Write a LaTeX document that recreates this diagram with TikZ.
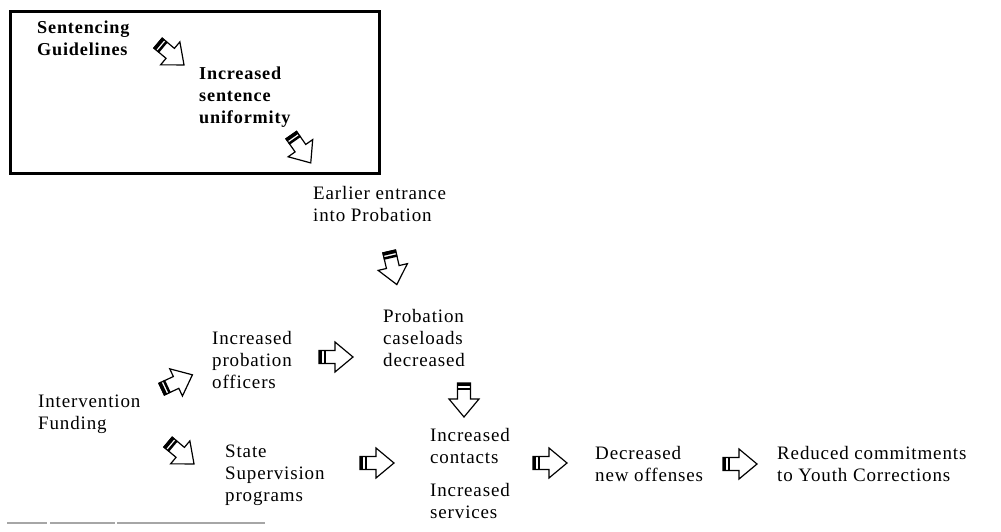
\documentclass[tikz,border=0pt]{standalone}
\usepackage{fontspec}
\setmainfont[LetterSpace=4.5]{Liberation Serif}
\begin{document}
\begin{tikzpicture}[x=1pt,y=-1pt,
  lbl/.style={anchor=north west,inner sep=0pt,align=left,font=\fontsize{19}{22}\selectfont},
  blbl/.style={lbl,font=\fontsize{18.2}{22}\selectfont\bfseries},
  sarrow/.pic={
    \draw[line width=1.2pt,line join=miter,fill=white]
      (-17,-6.5) -- (-1,-6.5) -- (-1,-15) -- (17,0) -- (-1,15) -- (-1,6.5) -- (-17,6.5) -- cycle;
    \fill (-17.5,-7) rectangle (-14,7);
    \fill (-12.5,-7) rectangle (-10,7);
  }]
\useasboundingbox (0,0) rectangle (1001,532);
% frame
\draw[line width=2.4pt] (10.5,11.5) rectangle (379.5,173.5);
% texts
\node[blbl] (sg)  at (37,21)  {Sentencing\\Guidelines};
\node[blbl] (isu) at (199,67) {Increased\\sentence\\uniformity};
\node[lbl]  (eep) at (313,186) {Earlier entrance\\into Probation};
\node[lbl]  (pcd) at (383,309) {Probation\\caseloads\\decreased};
\node[lbl]  (ipo) at (212,331) {Increased\\probation\\officers};
\node[lbl]  (ifd) at (38,395)  {Intervention\\Funding};
\node[lbl]  (ssp) at (225,445) {State\\Supervision\\programs};
\node[lbl]  (ic)  at (430,428) {Increased\\contacts};
\node[lbl]  (is)  at (430,483) {Increased\\services};
\node[lbl]  (dno) at (595,446) {Decreased\\new offenses};
\node[lbl]  (rc)  at (777,446) {Reduced commitments\\to Youth Corrections};
% block arrows
\coordinate (a1) at (171,54);
\coordinate (a2) at (301,149);
\coordinate (a3) at (393,268);
\coordinate (a4) at (336,357);
\coordinate (a5) at (177,382);
\coordinate (a6) at (181,453);
\coordinate (a7) at (377,463);
\coordinate (a8) at (464,400);
\coordinate (a9) at (550,463);
\coordinate (a10) at (740,464);
\pic[rotate=-40] at (a1) {sarrow};
\pic[rotate=-55] at (a2) {sarrow};
\pic[rotate=-77] at (a3) {sarrow};
\pic at (a4) {sarrow};
\pic[rotate=25] at (a5) {sarrow};
\pic[rotate=-40] at (a6) {sarrow};
\pic at (a7) {sarrow};
\pic[rotate=-90] at (a8) {sarrow};
\pic at (a9) {sarrow};
\pic at (a10) {sarrow};
% bottom rule
\draw[gray!70,line width=1.5pt,dash pattern=on 40pt off 3pt on 65pt off 2pt on 150pt off 2pt] (7,523) -- (265,523);
\end{tikzpicture}
\end{document}
